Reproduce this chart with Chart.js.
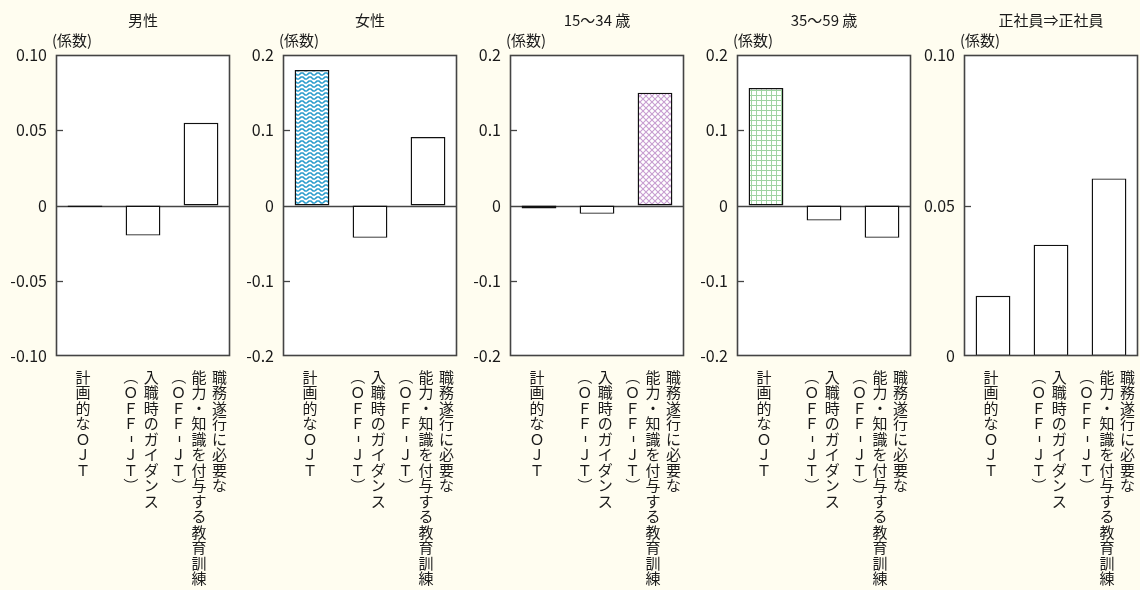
<!DOCTYPE html>
<html>
<head>
<meta charset="utf-8">
<script src="https://cdn.jsdelivr.net/npm/chart.js@4.4.1/dist/chart.umd.min.js"></script>
<style>
  html, body { margin: 0; padding: 0; background: #fffdf0; }
  #wrap { position: relative; width: 1140px; height: 590px; overflow: hidden; background: #fffdf0; }
  #wrap canvas { position: absolute; top: 0; }
</style>
</head>
<body>
<div id="wrap"></div>
<script>
// Categories: each entry is a list of vertical text columns, read right to left
const categories = [
  ['計画的なＯＪＴ'],
  ['入職時のガイダンス', '（ＯＦＦ－ＪＴ）'],
  ['職務遂行に必要な', '能力・知識を付与する教育訓練', '（ＯＦＦ－ＪＴ）']
];

const panelTitles = ['男性', '女性', '15～34 歳', '35～59 歳', '正社員⇒正社員'];
const unitLabel = '(係数)';

// Coefficients per panel (same category order)
const maleValues     = [-0.001, -0.020, 0.055];
const femaleValues   = [0.180, -0.043, 0.091];
const age15to34      = [-0.004, -0.011, 0.150];
const age35to59      = [0.156, -0.020, -0.043];
const regularToReg   = [0.020, 0.037, 0.059];

// Y-axis ticks per panel
const ticksNarrow      = [-0.10, -0.05, 0, 0.05, 0.10];
const tickLabelsNarrow = ['-0.10', '-0.05', '0', '0.05', '0.10'];
const ticksWide        = [-0.2, -0.1, 0, 0.1, 0.2];
const tickLabelsWide   = ['-0.2', '-0.1', '0', '0.1', '0.2'];
const ticksPositive      = [0, 0.05, 0.10];
const tickLabelsPositive = ['0', '0.05', '0.10'];

const FONT = '"Noto Sans CJK JP", "Noto Sans", sans-serif';
const TEXT = '#1a1a1a';
const FRAME = '#444444';

function makePattern(w, h, bg, draw) {
  const c = document.createElement('canvas');
  c.width = w; c.height = h;
  const g = c.getContext('2d');
  g.fillStyle = bg; g.fillRect(0, 0, w, h);
  draw(g);
  return g.createPattern(c, 'repeat');
}

const waveFill = makePattern(8, 4, '#ffffff', g => {
  g.strokeStyle = '#2a9ccc'; g.lineWidth = 1.6;
  g.beginPath();
  g.moveTo(0, 3); g.lineTo(2, 1); g.lineTo(4, 1); g.lineTo(6, 3); g.lineTo(8, 3);
  g.stroke();
});
const diamondFill = makePattern(6, 6, '#ffffff', g => {
  g.strokeStyle = '#c79dd0'; g.lineWidth = 1.1;
  g.beginPath();
  g.moveTo(0, 0); g.lineTo(6, 6);
  g.moveTo(6, 0); g.lineTo(0, 6);
  g.stroke();
});
const gridFill = makePattern(5, 5, '#ffffff', g => {
  g.strokeStyle = '#9fd3a2'; g.lineWidth = 1;
  g.beginPath();
  g.moveTo(0.5, 0); g.lineTo(0.5, 5);
  g.moveTo(0, 0.5); g.lineTo(5, 0.5);
  g.stroke();
});

const panels = [
  { title: panelTitles[0], values: maleValues,   ticks: ticksNarrow,   labels: tickLabelsNarrow,   fills: [waveFill, '#fff', '#fff'] },
  { title: panelTitles[1], values: femaleValues, ticks: ticksWide,     labels: tickLabelsWide,     fills: [waveFill, '#fff', '#fff'] },
  { title: panelTitles[2], values: age15to34,    ticks: ticksWide,     labels: tickLabelsWide,     fills: [diamondFill, '#fff', diamondFill] },
  { title: panelTitles[3], values: age35to59,    ticks: ticksWide,     labels: tickLabelsWide,     fills: [gridFill, '#fff', '#fff'] },
  { title: panelTitles[4], values: regularToReg, ticks: ticksPositive, labels: tickLabelsPositive, fills: ['#fff', '#fff', '#fff'] }
];

const PANEL_STEP = 227;
const AXIS_W = 56;
const PLOT_W = 174;
const PLOT_TOP = 55;
const PLOT_BOTTOM = 356;
const H = 590;

// Frame, inward ticks, titles and vertical category text
const panelDecor = {
  id: 'panelDecor',
  beforeDatasetsDraw(chart) {
    const { ctx, chartArea: a } = chart;
    ctx.save();
    ctx.fillStyle = '#ffffff';
    ctx.fillRect(a.left, a.top, a.right - a.left, a.bottom - a.top);
    const y = chart.scales.y;
    if (y.min < 0 && y.max > 0) {
      const zy = Math.round(y.getPixelForValue(0)) + 0.5;
      ctx.strokeStyle = FRAME; ctx.lineWidth = 1.3;
      ctx.beginPath(); ctx.moveTo(a.left, zy); ctx.lineTo(a.right, zy); ctx.stroke();
    }
    ctx.restore();
  },
  afterDraw(chart) {
    const { ctx, chartArea: a } = chart;
    const y = chart.scales.y, x = chart.scales.x;
    const cfg = chart.config.options.plugins.panelDecor;
    ctx.save();
    // frame
    ctx.strokeStyle = FRAME; ctx.lineWidth = 1.6;
    ctx.strokeRect(a.left + 0.5, a.top + 0.5, a.right - a.left - 1, a.bottom - a.top - 1);
    // inward ticks
    ctx.lineWidth = 1.3;
    cfg.ticks.forEach(v => {
      if (v === y.min || v === y.max || v === 0) return;
      const ty = Math.round(y.getPixelForValue(v)) + 0.5;
      ctx.beginPath(); ctx.moveTo(a.left, ty); ctx.lineTo(a.left + 7, ty); ctx.stroke();
    });
    // title and unit
    ctx.fillStyle = TEXT;
    ctx.font = '15px ' + FONT;
    ctx.textAlign = 'center'; ctx.textBaseline = 'middle';
    ctx.fillText(cfg.title, (a.left + a.right) / 2, 20);
    ctx.textAlign = 'left';
    ctx.fillText(unitLabel, a.left - 4, 40);
    // vertical category text
    ctx.textAlign = 'center'; ctx.textBaseline = 'middle';
    const colGap = 20.5, charStep = 15.5, firstY = 377;
    categories.forEach((cols, i) => {
      const cx = x.getPixelForValue(i) - 2;
      const n = cols.length;
      cols.forEach((col, j) => {
        const colX = cx + ((n - 1) / 2 - j) * colGap;
        Array.from(col).forEach((ch, k) => {
          const cy = firstY + k * charStep;
          if ('（）'.includes(ch)) {
            ctx.save();
            ctx.translate(colX, cy);
            ctx.rotate(Math.PI / 2);
            ctx.font = '15px ' + FONT;
            ctx.fillText(ch, 0, 0);
            ctx.restore();
          } else if (ch === '－') {
            // vertical dash
            ctx.save();
            ctx.strokeStyle = TEXT; ctx.lineWidth = 1.3;
            ctx.beginPath();
            ctx.moveTo(Math.round(colX) + 0.5, cy - 3);
            ctx.lineTo(Math.round(colX) + 0.5, cy + 3);
            ctx.stroke();
            ctx.restore();
          } else {
            ctx.font = '15px ' + FONT;
            ctx.fillText(ch, colX, cy);
          }
        });
      });
    });
    ctx.restore();
  }
};

const wrap = document.getElementById('wrap');
panels.forEach((p, i) => {
  const left = PANEL_STEP * i;
  const width = Math.min(240, 1140 - left);
  const canvas = document.createElement('canvas');
  canvas.width = width; canvas.height = H;
  canvas.style.left = left + 'px';
  canvas.style.width = width + 'px'; canvas.style.height = H + 'px';
  wrap.appendChild(canvas);

  new Chart(canvas, {
    type: 'bar',
    data: {
      labels: categories.map(c => c.join('')),
      datasets: [{
        data: p.values,
        backgroundColor: p.fills,
        borderColor: '#111',
        borderWidth: 1.4,
        borderSkipped: false,
        categoryPercentage: 1,
        barPercentage: 0.6
      }]
    },
    options: {
      responsive: false,
      animation: false,
      devicePixelRatio: 1,
      layout: { padding: { left: 0, top: PLOT_TOP, right: width - (AXIS_W + PLOT_W), bottom: H - PLOT_BOTTOM } },
      plugins: {
        legend: { display: false },
        tooltip: { enabled: false },
        panelDecor: { title: p.title, ticks: p.ticks }
      },
      scales: {
        x: { display: false },
        y: {
          min: p.ticks[0],
          max: p.ticks[p.ticks.length - 1],
          afterFit: s => { s.width = AXIS_W; },
          afterBuildTicks: s => { s.ticks = p.ticks.map(v => ({ value: v })); },
          grid: { display: false, drawTicks: false },
          border: { display: false },
          ticks: {
            padding: 9,
            color: TEXT,
            font: { family: FONT, size: 16 },
            callback: (v, idx) => p.labels[idx]
          }
        }
      }
    },
    plugins: [panelDecor]
  });
});
</script>
</body>
</html>
